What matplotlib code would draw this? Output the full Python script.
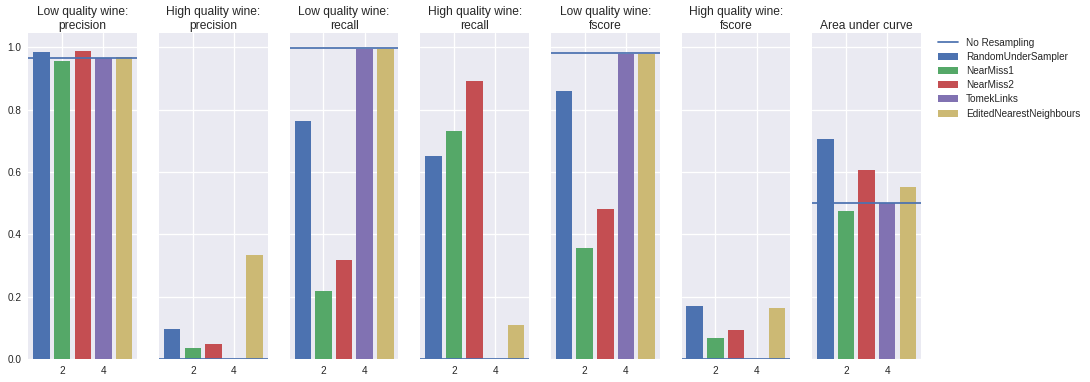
import matplotlib
matplotlib.use('Agg')
import matplotlib.pyplot as plt

plt.style.use('seaborn-v0_8-darkgrid')
plt.rcParams['font.family'] = ['Liberation Sans', 'DejaVu Sans']
plt.rcParams['grid.linewidth'] = 1.3

methods = ['RandomUnderSampler', 'NearMiss1', 'NearMiss2', 'TomekLinks', 'EditedNearestNeighbours']
colors = ['#4C72B0', '#55A868', '#C44E52', '#8172B2', '#CCB974']
titles = ['Low quality wine:\nprecision', 'High quality wine:\nprecision',
          'Low quality wine:\nrecall', 'High quality wine:\nrecall',
          'Low quality wine:\nfscore', 'High quality wine:\nfscore',
          'Area under curve']

# scores per metric, one value per resampling method
low_precision = [0.986, 0.957, 0.989, 0.964, 0.969]
high_precision = [0.096, 0.035, 0.048, 0.0, 0.334]
low_recall = [0.764, 0.218, 0.318, 0.995, 0.995]
high_recall = [0.652, 0.732, 0.892, 0.0, 0.109]
low_fscore = [0.860, 0.356, 0.482, 0.978, 0.977]
high_fscore = [0.170, 0.067, 0.093, 0.0, 0.164]
auc = [0.706, 0.475, 0.607, 0.500, 0.552]

# baseline without resampling
baseline = [0.964, 0.0, 0.996, 0.0, 0.981, 0.0, 0.499]

scores = [low_precision, high_precision, low_recall, high_recall, low_fscore, high_fscore, auc]

fig, axes = plt.subplots(1, 7, sharey=True, figsize=(1090 / 72, 382 / 72), dpi=72)
plt.subplots_adjust(left=0.026, right=0.845, bottom=0.06, top=0.914, wspace=0.2)

for ax, title, vals, base in zip(axes, titles, scores, baseline):
    ax.axhline(base, color='#4C72B0', lw=1.75, label='No Resampling', zorder=3)
    for i in range(len(methods)):
        ax.bar(i + 1, vals[i], color=colors[i], label=methods[i])
    ax.set_title(title, fontsize=12, color='.15', pad=4)
    ax.set_xticks([2, 4])
    ax.tick_params(labelsize=10, colors='.15', pad=7)

axes[-1].legend(loc='upper left', bbox_to_anchor=(1.07, 1.013), fontsize=10,
                frameon=False, labelspacing=0.42)

plt.savefig('out.png', dpi=72)
